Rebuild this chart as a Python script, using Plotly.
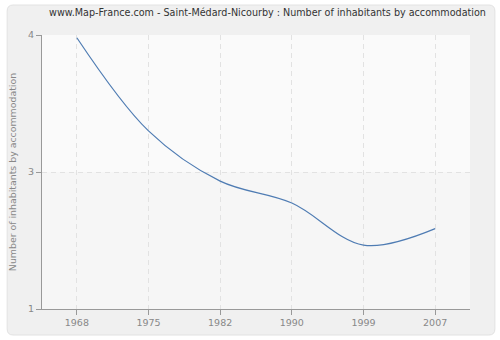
import plotly.graph_objects as go

years = ["1968", "1975", "1982", "1990", "1999", "2007"]
values = [3.97, 2.95, 2.40, 2.16, 1.70, 1.88]
y_tickvals = [1, 2.5, 4]
y_ticktext = ["1", "3", "4"]

title = "www.Map-France.com - Saint-Médard-Nicourby : Number of inhabitants by accommodation"
ytitle = "Number of inhabitants by accommodation"

L, R, T, B = 40, 30, 35, 31
W, H = 500, 340
pw, ph = W - L - R, H - T - B

def px(x):
    return (x - L) / pw

def py(y):
    return (H - B - y) / ph

# rounded panel path in paper coords
x0, x1, y0, y1 = px(5), px(495), py(5), py(335)
rx, ry = 6 / pw, 6 / ph
panel = (f"M {x0+rx},{y0} L {x1-rx},{y0} Q {x1},{y0} {x1},{y0-ry} "
         f"L {x1},{y1+ry} Q {x1},{y1} {x1-rx},{y1} L {x0+rx},{y1} "
         f"Q {x0},{y1} {x0},{y1+ry} L {x0},{y0-ry} Q {x0},{y0} {x0+rx},{y0} Z")

fig = go.Figure()
fig.add_trace(go.Scatter(
    x=years, y=values, mode="lines",
    line=dict(color="#4f7cb3", width=1.2, shape="spline", smoothing=1.0),
    hoverinfo="skip", showlegend=False,
))

fig.update_layout(
    width=W, height=H,
    margin=dict(l=L, r=R, t=T, b=B),
    paper_bgcolor="#ffffff",
    plot_bgcolor="rgba(0,0,0,0)",
    font=dict(family="DejaVu Sans", size=9.5, color="#888888"),
    title=dict(text=title, x=0.535, xanchor="center", y=1 - 13 / H, yanchor="middle",
               font=dict(family="DejaVu Sans", size=9.6, color="#333333")),
    shapes=[
        dict(type="path", path=panel, xref="paper", yref="paper",
             fillcolor="#f0f0f0", line=dict(color="#e2e2e2", width=1), layer="below"),
        dict(type="rect", xref="paper", yref="paper", x0=0, x1=1, y0=0, y1=1,
             fillcolor="#f6f6f6", line=dict(width=0), layer="below"),
        dict(type="rect", xref="paper", yref="y", x0=0, x1=1, y0=2.5, y1=4,
             fillcolor="#fafafa", line=dict(width=0), layer="below"),
    ],
    xaxis=dict(
        type="category", range=[-35 / 72, 5 + 35 / 72],
        showline=True, linecolor="#999999", linewidth=1,
        ticks="outside", ticklen=5, tickcolor="#999999",
        showgrid=True, gridcolor="#e2e2e2", griddash="5px,4px", gridwidth=1,
        zeroline=False, tickfont=dict(size=9.5, color="#888888"),
    ),
    yaxis=dict(
        range=[1, 4], tickmode="array", tickvals=y_tickvals, ticktext=y_ticktext,
        showline=True, linecolor="#999999", linewidth=1,
        ticks="outside", ticklen=5, tickcolor="#999999",
        showgrid=True, gridcolor="#e2e2e2", griddash="5px,4px", gridwidth=1,
        zeroline=False, tickfont=dict(size=9.5, color="#888888"),
        title=dict(text=ytitle, font=dict(size=9.4, color="#888888"), standoff=9),
    ),
)

fig.write_html("out.html")
